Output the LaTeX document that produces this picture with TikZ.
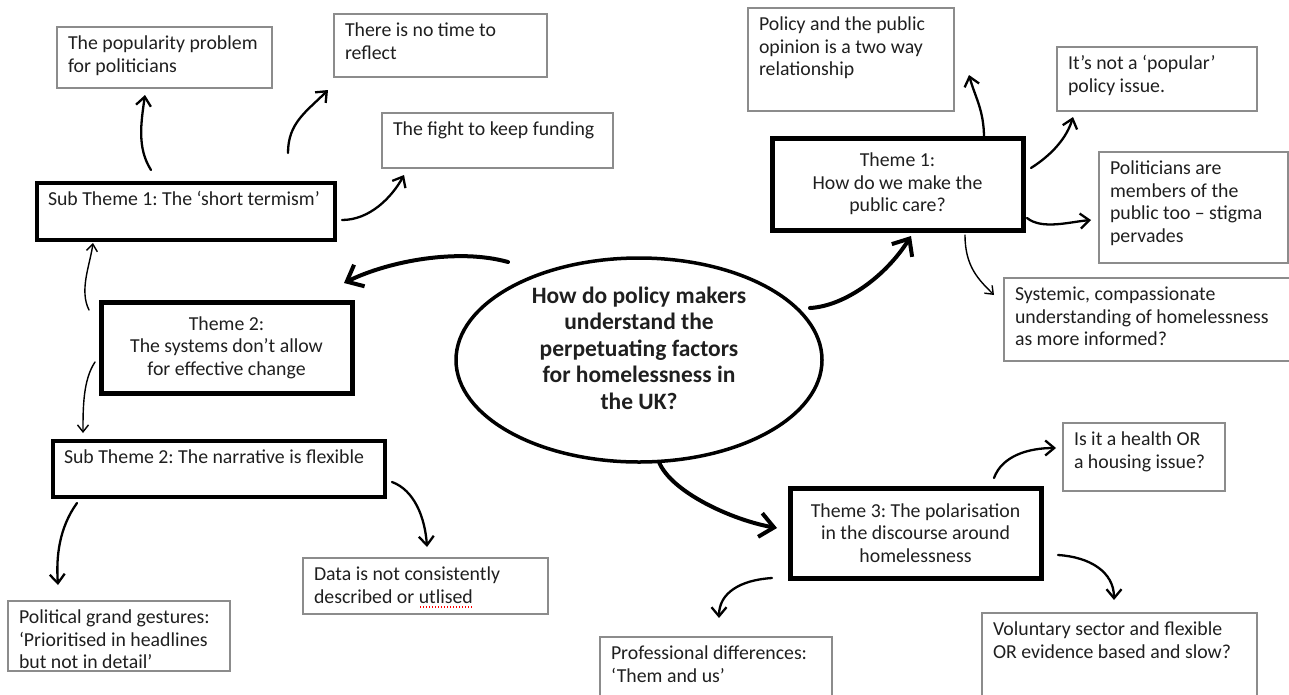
\documentclass[tikz,border=0pt]{standalone}
\usepackage{fontspec}
\setmainfont{Carlito}
\usetikzlibrary{arrows.meta,calc,shapes.geometric}
\frenchspacing
\newcommand\bxt[3]{\parbox[t][#2][t]{#1}{\raggedright\vspace*{7pt}\strut #3}}
\newcommand\ctr[2]{\parbox{#1}{\centering #2}}
\newcommand\spellmark[1]{\setbox0\hbox{#1}\rlap{\raisebox{-4.5pt}{\textcolor{red}{\hbox to \wd0{\xleaders\hbox to 3pt{\hss\rule{1.5pt}{1.5pt}\hss}\hfill}}}}#1}
\begin{document}
\begin{tikzpicture}[x=1pt,y=-1pt,
  every node/.style={font=\fontsize{19.8}{22.5}\selectfont\frenchspacing, text=black!88},
  tbox/.style={draw=black!45, line width=1.3pt, inner xsep=11pt, inner ysep=0pt, outer sep=0pt, anchor=north west},
  sbox/.style={tbox, draw=black, line width=4pt},
  themebox/.style={draw=black, line width=5pt, anchor=north west, inner sep=0pt, outer sep=0pt},
  amed/.style={line width=2.3pt, line cap=round, -{Straight Barb[length=9pt,width=15pt]}},
  athin/.style={line width=1.4pt, line cap=round, -{Straight Barb[length=7pt,width=11pt]}},
  athick/.style={line width=4pt, line cap=round, -{Straight Barb[length=14pt,width=24pt]}},
]
\useasboundingbox (0,0) rectangle (1289,694);
\clip (0,0) rectangle (1289,694);

% left side
\node[tbox] (pop) at (57,27) {\bxt{193pt}{61pt}{The popularity problem\\for politicians}};
\node[tbox] (notime) at (334,14) {\bxt{191pt}{63pt}{There is no time to\\reflect}};
\node[tbox] (fight) at (382,113) {\bxt{209pt}{55pt}{The fight to keep funding}};
\node[sbox] (sub1) at (37,183) {\bxt{276pt}{57pt}{Sub Theme 1: The ‘short termism’}};
\node[themebox, minimum width=251pt, minimum height=91pt] (theme2) at (101,302) {\ctr{240pt}{Theme 2:\\The systems don’t allow\\for effective change}};
\node[sbox] (sub2) at (53,441) {\bxt{310pt}{56pt}{Sub Theme 2: The narrative is flexible}};
\node[tbox] (political) at (8,601) {\bxt{200pt}{70pt}{Political grand gestures:\\‘Prioritised in headlines\\but not in detail’}};
\node[tbox] (data) at (303,558) {\bxt{223pt}{56pt}{Data is not consistently\\described or \spellmark{utlised}}};

% centre
\node[draw, ellipse, line width=3.5pt, minimum width=366pt, minimum height=204pt, inner sep=0pt] (q) at (639,360)
  {\makebox[0pt]{\raisebox{6.5pt}[0pt][0pt]{\parbox{280pt}{\centering\bfseries\fontsize{23.5}{26.5}\selectfont How do policy makers\\understand the\\perpetuating factors\\for homelessness in\\the UK?}}}};

% right side
\node[themebox, minimum width=251pt, minimum height=92pt] (theme1) at (772,138) {\ctr{240pt}{Theme 1:\\How do we make the\\public care?}};
\node[tbox] (policy) at (748,8) {\bxt{184pt}{103pt}{Policy and the public\\opinion is a two way\\relationship}};
\node[tbox] (notpop) at (1057,47) {\bxt{178pt}{64pt}{It’s not a ‘popular’\\policy issue.}};
\node[tbox] (politicians) at (1099,152) {\bxt{167pt}{111pt}{Politicians are\\members of the\\public too – stigma\\pervades}};
\node[tbox] (systemic) at (1004,278) {\bxt{270pt}{83pt}{Systemic, compassionate\\understanding of homelessness\\as more informed?}};
\node[tbox] (health) at (1063,423) {\bxt{140pt}{68pt}{Is it a health OR\\a housing issue?}};
\node[themebox, minimum width=251pt, minimum height=90pt] (theme3) at (790,488) {\ctr{245pt}{Theme 3: The polarisation\\in the discourse around\\homelessness}};
\node[tbox] (voluntary) at (982,613) {\bxt{253pt}{90pt}{Voluntary sector and flexible\\OR evidence based and slow?}};
\node[tbox] (prof) at (600,637) {\bxt{210pt}{75pt}{Professional differences:\\‘Them and us’}};

% connectors
\draw[amed] ([shift={(114,-13)}]sub1.north west) .. controls +(-14,-22) and +(-4,28) .. ([shift={(88,68)}]pop.north west);
\draw[amed] ([shift={(251,-30)}]sub1.north west) .. controls +(0,-30) and +(-22,22) .. ([shift={(-6,76)}]notime.north west);
\draw[amed] ([shift={(305,37)}]sub1.north west) .. controls +(28,0) and +(-12,22) .. ([shift={(22,62)}]fight.north west);
\draw[athin] ([shift={(-12,8)}]theme2.north west) .. controls +(-10,-20) and +(-3,22) .. ([shift={(56,60)}]sub1.north west);
\draw[athin] ([shift={(-6,60)}]theme2.north west) .. controls +(-12,18) and +(0,-25) .. ([shift={(30,-8)}]sub2.north west);
\draw[amed] ([shift={(24,62)}]sub2.north west) .. controls +(-18,25) and +(-2,-28) .. ([shift={(50,-16)}]political.north west);
\draw[amed] ([shift={(339,41)}]sub2.north west) .. controls +(22,8) and +(-2,-30) .. ([shift={(124,-11)}]data.north west);

\draw[athick] ([shift={(-131,-98)}]q.center) .. controls +(-50,-14) and +(45,-22) .. ([shift={(243,-19)}]theme2.north west);
\draw[athick] ([shift={(171,-52)}]q.center) .. controls +(35,-2) and +(-25,40) .. ([shift={(139,98)}]theme1.north west);
\draw[athick] ([shift={(20,102)}]q.center) .. controls +(12,30) and +(-45,-8) .. ([shift={(-13,40)}]theme3.north west);

\draw[amed] ([shift={(212,0)}]theme1.north west) .. controls +(0,-28) and +(6,22) .. ([shift={(221,67)}]policy.north west);
\draw[amed] ([shift={(259,30)}]theme1.north west) .. controls +(22,-14) and +(-6,20) .. ([shift={(16,70)}]notpop.north west);
\draw[amed] ([shift={(255,80)}]theme1.north west) .. controls +(15,12) and +(-22,2) .. ([shift={(-8,68)}]politicians.north west);
\draw[athin] ([shift={(193,97)}]theme1.north west) .. controls +(0,32) and +(-15,-15) .. ([shift={(-10,17)}]systemic.north west);

\draw[amed] ([shift={(204,-10)}]theme3.north west) .. controls +(8,-22) and +(-28,0) .. ([shift={(-7,25)}]health.north west);
\draw[amed] ([shift={(268,67)}]theme3.north west) .. controls +(32,2) and +(0,-28) .. ([shift={(132,-13)}]voluntary.north west);
\draw[amed] ([shift={(-18,90)}]theme3.north west) .. controls +(-32,2) and +(0,-25) .. ([shift={(119,-19)}]prof.north west);
\end{tikzpicture}
\end{document}
